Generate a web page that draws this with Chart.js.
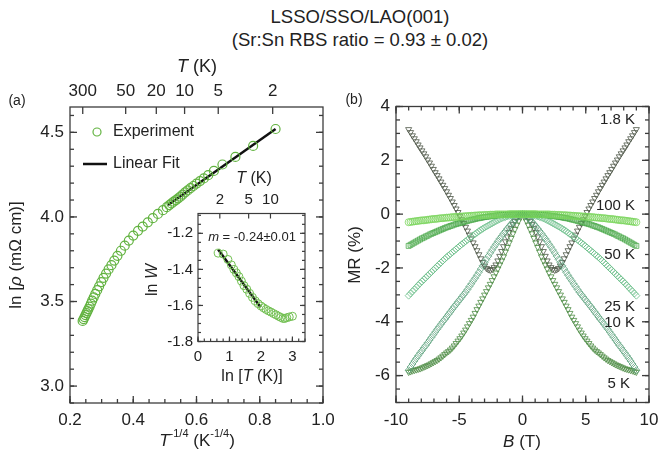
<!DOCTYPE html>
<html lang="en">
<head>
<meta charset="UTF-8">
<title>LSSO/SSO/LAO(001) transport</title>
<script src="https://cdn.jsdelivr.net/npm/chart.js"></script>
<style>
  body { margin: 0; background: #fff; }
  #wrap { position: relative; width: 660px; height: 457px; font-family: "Liberation Sans", Arial, sans-serif; color: #222; }
  #wrap canvas { position: absolute; left: 0; top: 0; }
  .title { position: absolute; left: 0; width: 720px; text-align: center; font-size: 18.5px; line-height: 22px; }
</style>
</head>
<body>
<div id="wrap">
  <div class="title" style="top:6px">LSSO/SSO/LAO(001)</div>
  <div class="title" style="top:29px">(Sr:Sn RBS ratio = 0.93 ± 0.02)</div>
  <canvas id="rhoChart" width="660" height="457"></canvas>
  <canvas id="insetChart" width="660" height="457"></canvas>
  <canvas id="mrChart" width="660" height="457"></canvas>
</div>

<script>
// ---------- panel (a): ln(rho) vs T^-1/4 ----------
var invT = [0.240, 0.243, 0.246, 0.249, 0.252, 0.255, 0.258, 0.262, 0.266, 0.270,
            0.275, 0.280, 0.286, 0.292, 0.299, 0.306, 0.314, 0.322, 0.331, 0.340,
            0.350, 0.361, 0.373, 0.386, 0.400, 0.415, 0.430, 0.446, 0.462, 0.478,
            0.494, 0.506, 0.514, 0.521, 0.528, 0.535, 0.542, 0.549, 0.556, 0.564,
            0.572, 0.581, 0.590, 0.600, 0.611, 0.623, 0.637, 0.655, 0.682, 0.723,
            0.779, 0.850];
var lnRho = [3.385, 3.396, 3.408, 3.420, 3.431, 3.443, 3.455, 3.470, 3.488, 3.505,
             3.525, 3.545, 3.567, 3.590, 3.615, 3.640, 3.665, 3.690, 3.715, 3.742,
             3.770, 3.800, 3.830, 3.860, 3.890, 3.918, 3.943, 3.968, 3.993, 4.018,
             4.040, 4.058, 4.070, 4.080, 4.090, 4.100, 4.110, 4.120, 4.132, 4.145,
             4.157, 4.170, 4.183, 4.197, 4.212, 4.228, 4.247, 4.272, 4.310, 4.355,
             4.420, 4.520];
var fitInvT = [0.51, 0.85];
var fitLnRho = [4.07, 4.52];
var rhoXTicks = [0.2, 0.4, 0.6, 0.8, 1.0];
var rhoXLabels = ['0.2', '0.4', '0.6', '0.8', '1.0'];
var rhoYTicks = [3.0, 3.5, 4.0, 4.5];
var rhoYLabels = ['3.0', '3.5', '4.0', '4.5'];
var rhoTopTemps = [300, 50, 20, 10, 5, 2];

// ---------- inset: ln W vs ln T ----------
var lnT = [0.64, 0.80, 0.95, 1.06, 1.14, 1.22, 1.30, 1.38, 1.46, 1.55,
           1.64, 1.73, 1.82, 1.91, 2.00, 2.08, 2.16, 2.24, 2.32, 2.40,
           2.48, 2.56, 2.63, 2.70, 2.76, 2.82, 2.90, 3.00];
var lnW = [-1.310, -1.315, -1.345, -1.375, -1.400, -1.420, -1.440, -1.465, -1.490, -1.510,
           -1.533, -1.555, -1.575, -1.590, -1.603, -1.613, -1.622, -1.630, -1.637, -1.645,
           -1.652, -1.660, -1.666, -1.672, -1.672, -1.668, -1.664, -1.660];
var fitLnT = [0.64, 1.99];
var fitLnW = [-1.29, -1.61];
var insetXTicks = [0, 1, 2, 3];
var insetXLabels = ['0', '1', '2', '3'];
var insetYTicks = [-1.8, -1.6, -1.4, -1.2];
var insetYLabels = ['-1.8', '-1.6', '-1.4', '-1.2'];
var insetTopTemps = [2, 5, 10];

// ---------- panel (b): MR vs B, field swept -9 T .. 9 T ----------
var fieldB = [
    -9, -8.85, -8.7, -8.55, -8.4, -8.25, -8.1, -7.95, -7.8, -7.65,
    -7.5, -7.35, -7.2, -7.05, -6.9, -6.75, -6.6, -6.45, -6.3, -6.15,
    -6, -5.85, -5.7, -5.55, -5.4, -5.25, -5.1, -4.95, -4.8, -4.65,
    -4.5, -4.35, -4.2, -4.05, -3.9, -3.75, -3.6, -3.45, -3.3, -3.15,
    -3, -2.85, -2.7, -2.55, -2.4, -2.25, -2.1, -1.95, -1.8, -1.65,
    -1.5, -1.35, -1.2, -1.05, -0.9, -0.75, -0.6, -0.45, -0.3, -0.15,
    0,
    0.15, 0.3, 0.45, 0.6, 0.75, 0.9, 1.05, 1.2, 1.35, 1.5,
    1.65, 1.8, 1.95, 2.1, 2.25, 2.4, 2.55, 2.7, 2.85, 3,
    3.15, 3.3, 3.45, 3.6, 3.75, 3.9, 4.05, 4.2, 4.35, 4.5,
    4.65, 4.8, 4.95, 5.1, 5.25, 5.4, 5.55, 5.7, 5.85, 6,
    6.15, 6.3, 6.45, 6.6, 6.75, 6.9, 7.05, 7.2, 7.35, 7.5,
    7.65, 7.8, 7.95, 8.1, 8.25, 8.4, 8.55, 8.7, 8.85, 9];
var mr100K = [
    -0.30, -0.29, -0.28, -0.27, -0.26, -0.25, -0.24, -0.23, -0.23, -0.22,
    -0.21, -0.20, -0.19, -0.18, -0.18, -0.17, -0.16, -0.15, -0.15, -0.14,
    -0.13, -0.13, -0.12, -0.11, -0.11, -0.10, -0.10, -0.09, -0.09, -0.08,
    -0.08, -0.07, -0.07, -0.06, -0.06, -0.05, -0.05, -0.04, -0.04, -0.04,
    -0.03, -0.03, -0.03, -0.02, -0.02, -0.02, -0.01, -0.01, -0.01, -0.01,
    -0.01, -0.01, -0.01, 0, 0, 0, 0, 0, 0, 0,
    0,
    0, 0, 0, 0, 0, 0, 0, -0.01, -0.01, -0.01,
    -0.01, -0.01, -0.01, -0.01, -0.02, -0.02, -0.02, -0.03, -0.03, -0.03,
    -0.04, -0.04, -0.04, -0.05, -0.05, -0.06, -0.06, -0.07, -0.07, -0.08,
    -0.08, -0.09, -0.09, -0.10, -0.10, -0.11, -0.11, -0.12, -0.13, -0.13,
    -0.14, -0.15, -0.15, -0.16, -0.17, -0.18, -0.18, -0.19, -0.20, -0.21,
    -0.22, -0.23, -0.23, -0.24, -0.25, -0.26, -0.27, -0.28, -0.29, -0.30];
var mr50K = [
    -1.18, -1.14, -1.10, -1.06, -1.02, -0.98, -0.94, -0.90, -0.87, -0.83,
    -0.80, -0.76, -0.73, -0.70, -0.67, -0.64, -0.61, -0.58, -0.55, -0.52,
    -0.49, -0.47, -0.44, -0.42, -0.39, -0.37, -0.35, -0.33, -0.31, -0.29,
    -0.27, -0.25, -0.23, -0.21, -0.20, -0.18, -0.16, -0.15, -0.14, -0.12,
    -0.11, -0.10, -0.09, -0.08, -0.07, -0.06, -0.05, -0.04, -0.04, -0.03,
    -0.03, -0.02, -0.02, -0.01, -0.01, -0.01, 0, 0, 0, 0,
    0,
    0, 0, 0, 0, -0.01, -0.01, -0.01, -0.02, -0.02, -0.03,
    -0.03, -0.04, -0.04, -0.05, -0.06, -0.07, -0.08, -0.09, -0.10, -0.11,
    -0.12, -0.14, -0.15, -0.16, -0.18, -0.20, -0.21, -0.23, -0.25, -0.27,
    -0.29, -0.31, -0.33, -0.35, -0.37, -0.39, -0.42, -0.44, -0.47, -0.49,
    -0.52, -0.55, -0.58, -0.61, -0.64, -0.67, -0.70, -0.73, -0.76, -0.80,
    -0.83, -0.87, -0.90, -0.94, -0.98, -1.02, -1.06, -1.10, -1.14, -1.18];
var mr25K = [
    -3.03, -2.95, -2.87, -2.80, -2.72, -2.645, -2.57, -2.50, -2.43, -2.36,
    -2.29, -2.22, -2.15, -2.08, -2.01, -1.94, -1.87, -1.80, -1.73, -1.665,
    -1.60, -1.54, -1.48, -1.42, -1.36, -1.30, -1.24, -1.18, -1.12, -1.07,
    -1.01, -0.955, -0.90, -0.84, -0.79, -0.74, -0.69, -0.635, -0.59, -0.545,
    -0.50, -0.46, -0.42, -0.38, -0.34, -0.30, -0.26, -0.225, -0.19, -0.158,
    -0.13, -0.106, -0.085, -0.066, -0.05, -0.034, -0.022, -0.012, -0.006, -0.002,
    0,
    -0.002, -0.006, -0.012, -0.022, -0.034, -0.05, -0.066, -0.085, -0.106, -0.13,
    -0.158, -0.19, -0.225, -0.26, -0.30, -0.34, -0.38, -0.42, -0.46, -0.50,
    -0.545, -0.59, -0.635, -0.69, -0.74, -0.79, -0.84, -0.90, -0.955, -1.01,
    -1.07, -1.12, -1.18, -1.24, -1.30, -1.36, -1.42, -1.48, -1.54, -1.60,
    -1.665, -1.73, -1.80, -1.87, -1.94, -2.01, -2.08, -2.15, -2.22, -2.29,
    -2.36, -2.43, -2.50, -2.57, -2.645, -2.72, -2.80, -2.87, -2.95, -3.03];
var mr10K = [
    -5.80, -5.68, -5.57, -5.46, -5.36, -5.26, -5.16, -5.07, -4.97, -4.88,
    -4.78, -4.68, -4.58, -4.48, -4.38, -4.28, -4.19, -4.09, -4.00, -3.91,
    -3.82, -3.72, -3.63, -3.53, -3.44, -3.35, -3.26, -3.17, -3.08, -2.99,
    -2.90, -2.80, -2.69, -2.59, -2.48, -2.38, -2.27, -2.16, -2.04, -1.92,
    -1.80, -1.68, -1.56, -1.44, -1.33, -1.22, -1.12, -1.01, -0.91, -0.82,
    -0.72, -0.63, -0.54, -0.45, -0.37, -0.29, -0.21, -0.14, -0.07, -0.03,
    0,
    -0.03, -0.07, -0.14, -0.21, -0.29, -0.37, -0.45, -0.54, -0.63, -0.72,
    -0.82, -0.91, -1.01, -1.12, -1.22, -1.33, -1.44, -1.56, -1.68, -1.80,
    -1.92, -2.04, -2.16, -2.27, -2.38, -2.48, -2.59, -2.69, -2.80, -2.90,
    -2.99, -3.08, -3.17, -3.26, -3.35, -3.44, -3.53, -3.63, -3.72, -3.82,
    -3.91, -4.00, -4.09, -4.19, -4.28, -4.38, -4.48, -4.58, -4.68, -4.78,
    -4.88, -4.97, -5.07, -5.16, -5.26, -5.36, -5.46, -5.57, -5.68, -5.80];
var mr5K = [
    -5.87, -5.85, -5.82, -5.80, -5.78, -5.76, -5.74, -5.71, -5.68, -5.65,
    -5.62, -5.59, -5.55, -5.51, -5.47, -5.43, -5.38, -5.33, -5.27, -5.21,
    -5.15, -5.10, -5.04, -4.97, -4.89, -4.80, -4.71, -4.62, -4.52, -4.41,
    -4.30, -4.18, -4.06, -3.94, -3.82, -3.68, -3.54, -3.41, -3.27, -3.14,
    -3.00, -2.87, -2.73, -2.60, -2.46, -2.32, -2.18, -2.03, -1.88, -1.73,
    -1.58, -1.40, -1.23, -1.06, -0.89, -0.72, -0.56, -0.40, -0.25, -0.11,
    0,
    -0.11, -0.25, -0.40, -0.56, -0.72, -0.89, -1.06, -1.23, -1.40, -1.58,
    -1.73, -1.88, -2.03, -2.18, -2.32, -2.46, -2.60, -2.73, -2.87, -3.00,
    -3.14, -3.27, -3.41, -3.54, -3.68, -3.82, -3.94, -4.06, -4.18, -4.30,
    -4.41, -4.52, -4.62, -4.71, -4.80, -4.89, -4.97, -5.04, -5.10, -5.15,
    -5.21, -5.27, -5.33, -5.38, -5.43, -5.47, -5.51, -5.55, -5.59, -5.62,
    -5.65, -5.68, -5.71, -5.74, -5.76, -5.78, -5.80, -5.82, -5.85, -5.87];
var mr1p8K = [
    3.15, 3.04, 2.92, 2.81, 2.70, 2.58, 2.47, 2.36, 2.25, 2.14,
    2.02, 1.91, 1.79, 1.67, 1.55, 1.44, 1.32, 1.20, 1.08, 0.96,
    0.84, 0.71, 0.59, 0.46, 0.33, 0.20, 0.07, -0.07, -0.20, -0.34,
    -0.48, -0.62, -0.77, -0.91, -1.06, -1.20, -1.35, -1.50, -1.65, -1.79,
    -1.92, -2.01, -2.06, -2.08, -2.05, -1.98, -1.88, -1.73, -1.56, -1.38,
    -1.20, -1.02, -0.84, -0.67, -0.52, -0.38, -0.26, -0.15, -0.07, -0.02,
    0,
    -0.02, -0.07, -0.15, -0.26, -0.38, -0.52, -0.67, -0.84, -1.02, -1.20,
    -1.38, -1.56, -1.73, -1.88, -1.98, -2.05, -2.08, -2.06, -2.01, -1.92,
    -1.79, -1.65, -1.50, -1.35, -1.20, -1.06, -0.91, -0.77, -0.62, -0.48,
    -0.34, -0.20, -0.07, 0.07, 0.20, 0.33, 0.46, 0.59, 0.71, 0.84,
    0.96, 1.08, 1.20, 1.32, 1.44, 1.55, 1.67, 1.79, 1.91, 2.02,
    2.14, 2.25, 2.36, 2.47, 2.58, 2.70, 2.81, 2.92, 3.04, 3.15];
var mrXTicks = [-10, -5, 0, 5, 10];
var mrXLabels = ['-10', '-5', '0', '5', '10'];
var mrYTicks = [-6, -4, -2, 0, 2, 4];
var mrYLabels = ['-6', '-4', '-2', '0', '2', '4'];

var FONT = '"Liberation Sans", Arial, sans-serif';
var INK = '#222';

function pairs(xs, ys) {
    return xs.map(function (x, i) { return { x: x, y: ys[i] }; });
}

// evenly spaced minor tick positions for an axis
function stepTicks(min, max, step) {
    var out = [];
    for (var v = min; v <= max + 1e-9; v += step) out.push(+v.toFixed(4));
    return out;
}

// text made of runs: {t, i (italic), s (superscript)}
function drawRuns(ctx, runs, x, y, size, align, rotate) {
    ctx.save();
    ctx.translate(x, y);
    if (rotate) ctx.rotate(-Math.PI / 2);
    var fontOf = function (r) {
        return (r.i ? 'italic ' : '') + (r.s ? Math.round(size * 0.62) : size) + 'px ' + FONT;
    };
    var w = 0;
    runs.forEach(function (r) { ctx.font = fontOf(r); w += ctx.measureText(r.t).width; });
    var cx = align === 'center' ? -w / 2 : (align === 'right' ? -w : 0);
    ctx.textBaseline = 'middle';
    ctx.textAlign = 'left';
    ctx.fillStyle = INK;
    runs.forEach(function (r) {
        ctx.font = fontOf(r);
        ctx.fillText(r.t, cx, r.s ? -size * 0.4 : 0);
        cx += ctx.measureText(r.t).width;
    });
    ctx.restore();
}

// box frame with inward ticks, tick labels and free text
var framePlugin = {
    id: 'frame',
    beforeDraw: function (chart, args, opts) {
        if (!opts.fill) return;
        var a = chart.chartArea, ctx = chart.ctx;
        ctx.save();
        ctx.fillStyle = opts.fill;
        ctx.fillRect(a.left, a.top, a.width, a.height);
        ctx.restore();
    },
    afterDraw: function (chart, args, opts) {
        var ctx = chart.ctx, a = chart.chartArea;
        var xs = chart.scales.x, ys = chart.scales.y;
        ctx.save();
        ctx.strokeStyle = '#3c3c3c';
        ctx.lineWidth = opts.lineWidth || 1.3;
        ctx.strokeRect(a.left, a.top, a.width, a.height);

        (opts.axes || []).forEach(function (ax) {
            var horiz = ax.side === 'bottom' || ax.side === 'top';
            var sc = horiz ? xs : ys;
            var put = function (v, len) {
                if (v < sc.min - 1e-9 || v > sc.max + 1e-9) return;
                var p = sc.getPixelForValue(v);
                ctx.beginPath();
                if (ax.side === 'bottom') { ctx.moveTo(p, a.bottom); ctx.lineTo(p, a.bottom - len); }
                if (ax.side === 'top') { ctx.moveTo(p, a.top); ctx.lineTo(p, a.top + len); }
                if (ax.side === 'left') { ctx.moveTo(a.left, p); ctx.lineTo(a.left + len, p); }
                if (ax.side === 'right') { ctx.moveTo(a.right, p); ctx.lineTo(a.right - len, p); }
                ctx.stroke();
            };
            (ax.minor || []).forEach(function (v) { put(v, opts.tickLen[1]); });
            ax.major.forEach(function (v) { put(v, opts.tickLen[0]); });

            if (!ax.labels) return;
            ctx.fillStyle = INK;
            ctx.font = ax.size + 'px ' + FONT;
            ax.major.forEach(function (v, i) {
                var p = sc.getPixelForValue(v);
                if (ax.side === 'bottom') {
                    ctx.textAlign = 'center'; ctx.textBaseline = 'top';
                    ctx.fillText(ax.labels[i], p, a.bottom + ax.pad);
                } else if (ax.side === 'top') {
                    ctx.textAlign = 'center'; ctx.textBaseline = 'bottom';
                    ctx.fillText(ax.labels[i], p, a.top - ax.pad);
                } else if (ax.side === 'left') {
                    ctx.textAlign = 'right'; ctx.textBaseline = 'middle';
                    ctx.fillText(ax.labels[i], a.left - ax.pad, p);
                }
            });
        });
        ctx.restore();

        (opts.texts || []).forEach(function (t) {
            var x = t.xv !== undefined ? xs.getPixelForValue(t.xv) : t.x;
            var y = t.yv !== undefined ? ys.getPixelForValue(t.yv) : t.y;
            drawRuns(ctx, t.runs, x, y, t.size, t.align || 'center', t.rotate);
        });

        // hand-placed legend entries taken from the datasets
        (opts.legend || []).forEach(function (l) {
            var ds = chart.data.datasets[l.ds];
            ctx.save();
            ctx.strokeStyle = ds.borderColor;
            if (ds.showLine) {
                ctx.lineWidth = ds.borderWidth;
                ctx.beginPath(); ctx.moveTo(l.x - 12, l.y); ctx.lineTo(l.x + 12, l.y); ctx.stroke();
            } else {
                ctx.lineWidth = ds.pointBorderWidth;
                ctx.beginPath(); ctx.arc(l.x, l.y, l.r, 0, Math.PI * 2); ctx.stroke();
            }
            ctx.restore();
            drawRuns(ctx, [{ t: ds.label }], l.tx, l.y, l.size, 'left');
        });
    }
};

function hiddenScale(min, max) {
    return { type: 'linear', min: min, max: max, display: false };
}

var baseOptions = {
    responsive: false,
    animation: false,
    events: [],
    plugins: { legend: { display: false }, tooltip: { enabled: false } }
};

function makeOptions(pad, xr, yr, frame) {
    return Object.assign({}, baseOptions, {
        layout: { autoPadding: false, padding: pad },
        scales: { x: hiddenScale(xr[0], xr[1]), y: hiddenScale(yr[0], yr[1]) },
        plugins: Object.assign({}, baseOptions.plugins, { frame: frame })
    });
}

var GREEN = '#62b340';

// panel (a)
new Chart(document.getElementById('rhoChart'), {
    type: 'scatter',
    data: {
        datasets: [{
            label: 'Experiment',
            data: pairs(invT, lnRho),
            borderColor: GREEN,
            backgroundColor: 'rgba(0,0,0,0)',
            pointRadius: 4.5,
            pointBorderWidth: 1.2
        }, {
            label: 'Linear Fit',
            data: pairs(fitInvT, fitLnRho),
            showLine: true,
            borderColor: '#111',
            borderWidth: 2.5,
            pointRadius: 0
        }]
    },
    options: makeOptions({ left: 70, right: 337, top: 107, bottom: 54 }, [0.2, 1.0], [2.9, 4.65], {
        tickLen: [7, 4],
        axes: [
            { side: 'bottom', major: rhoXTicks, minor: stepTicks(0.2, 1.0, 0.05), labels: rhoXLabels, size: 17, pad: 9 },
            { side: 'left', major: rhoYTicks, minor: stepTicks(2.9, 4.6, 0.1), labels: rhoYLabels, size: 17, pad: 6 },
            { side: 'right', major: rhoYTicks, minor: stepTicks(2.9, 4.6, 0.1) },
            { side: 'top', major: rhoTopTemps.map(function (t) { return Math.pow(t, -0.25); }),
              labels: rhoTopTemps.map(String), size: 17, pad: 7 }
        ],
        texts: [
            { runs: [{ t: '(a)' }], x: 17, y: 101, size: 14 },
            { runs: [{ t: 'T', i: 1 }, { t: ' (K)' }], x: 197, y: 67, size: 18 },
            { runs: [{ t: 'ln [' }, { t: 'ρ', i: 1 }, { t: ' (mΩ cm)]' }], x: 16, y: 255, size: 17, rotate: true },
            { runs: [{ t: 'T', i: 1 }, { t: '-1/4', s: 1 }, { t: ' (K' }, { t: '-1/4', s: 1 }, { t: ')' }], x: 197, y: 441, size: 17 }
        ],
        legend: [
            { ds: 0, x: 97, y: 132, r: 4, tx: 113, size: 16 },
            { ds: 1, x: 95, y: 164, tx: 113, size: 16 }
        ]
    }),
    plugins: [framePlugin]
});

// inset of panel (a)
new Chart(document.getElementById('insetChart'), {
    type: 'scatter',
    data: {
        datasets: [{
            label: 'ln W',
            data: pairs(lnT, lnW),
            borderColor: '#72c052',
            backgroundColor: 'rgba(0,0,0,0)',
            pointRadius: 4,
            pointBorderWidth: 1
        }, {
            label: 'fit',
            data: pairs(fitLnT, fitLnW),
            showLine: true,
            borderColor: '#111',
            borderWidth: 2.5,
            pointRadius: 0
        }]
    },
    options: makeOptions({ left: 198, right: 355, top: 213.5, bottom: 115.5 }, [0, 3.4], [-1.8, -1.09], {
        fill: '#fff',
        lineWidth: 1.2,
        tickLen: [5, 3],
        axes: [
            { side: 'bottom', major: insetXTicks, minor: stepTicks(0, 3.4, 0.2), labels: insetXLabels, size: 15, pad: 8 },
            { side: 'left', major: insetYTicks, minor: stepTicks(-1.8, -1.1, 0.05), labels: insetYLabels, size: 15, pad: 5 },
            { side: 'right', major: insetYTicks, minor: stepTicks(-1.8, -1.1, 0.05) },
            { side: 'top', major: insetTopTemps.map(function (t) { return Math.log(t); }),
              labels: insetTopTemps.map(String), size: 15, pad: 6 }
        ],
        texts: [
            { runs: [{ t: 'T', i: 1 }, { t: ' (K)' }], x: 254, y: 179, size: 16 },
            { runs: [{ t: 'ln ' }, { t: 'W', i: 1 }], x: 153, y: 280, size: 16, rotate: true },
            { runs: [{ t: 'ln [' }, { t: 'T', i: 1 }, { t: ' (K)]' }], x: 252, y: 377, size: 16 },
            { runs: [{ t: 'm', i: 1 }, { t: ' = -0.24±0.01' }], x: 252, y: 237, size: 13 }
        ]
    }),
    plugins: [framePlugin]
});

// panel (b): one dataset per temperature, first one drawn on top
var mrSeries = [
    { label: '100 K', values: mr100K, color: '#7ad45c', style: 'circle', rot: 0 },
    { label: '50 K', values: mr50K, color: '#4caa4c', style: 'rect', rot: 0 },
    { label: '25 K', values: mr25K, color: '#6cbf8a', style: 'rectRot', rot: 0 },
    { label: '10 K', values: mr10K, color: '#58a07a', style: 'rectRot', rot: 0 },
    { label: '5 K', values: mr5K, color: '#4d8c44', style: 'triangle', rot: 180 },
    { label: '1.8 K', values: mr1p8K, color: '#4d5646', style: 'triangle', rot: 180 }
];

new Chart(document.getElementById('mrChart'), {
    type: 'scatter',
    data: {
        datasets: mrSeries.map(function (s) {
            return {
                label: s.label,
                data: pairs(fieldB, s.values),
                borderColor: s.color,
                backgroundColor: 'rgba(0,0,0,0)',
                pointStyle: s.style,
                rotation: s.rot,
                pointRadius: 3.5,
                pointBorderWidth: 0.8
            };
        })
    },
    options: makeOptions({ left: 396, right: 11, top: 106.5, bottom: 54.5 }, [-10, 10], [-7, 4], {
        tickLen: [7, 4],
        axes: [
            { side: 'bottom', major: mrXTicks, minor: stepTicks(-10, 10, 1), labels: mrXLabels, size: 17, pad: 9 },
            { side: 'top', major: mrXTicks, minor: stepTicks(-10, 10, 1) },
            { side: 'left', major: mrYTicks, minor: stepTicks(-7, 4, 0.5), labels: mrYLabels, size: 17, pad: 6 },
            { side: 'right', major: mrYTicks, minor: stepTicks(-7, 4, 0.5) }
        ],
        texts: [
            { runs: [{ t: '(b)' }], x: 354, y: 100, size: 14 },
            { runs: [{ t: 'MR (%)' }], x: 355, y: 255, size: 17, rotate: true },
            { runs: [{ t: 'B', i: 1 }, { t: ' (T)' }], x: 522, y: 442, size: 17 },
            { runs: [{ t: '1.8 K' }], xv: 8.9, yv: 3.5, size: 15, align: 'right' },
            { runs: [{ t: '100 K' }], xv: 8.9, yv: 0.3, size: 15, align: 'right' },
            { runs: [{ t: '50 K' }], xv: 8.9, yv: -1.52, size: 15, align: 'right' },
            { runs: [{ t: '25 K' }], xv: 8.9, yv: -3.45, size: 15, align: 'right' },
            { runs: [{ t: '10 K' }], xv: 8.9, yv: -4.04, size: 15, align: 'right' },
            { runs: [{ t: '5 K' }], xv: 8.5, yv: -6.3, size: 15, align: 'right' }
        ]
    }),
    plugins: [framePlugin]
});
</script>
</body>
</html>
